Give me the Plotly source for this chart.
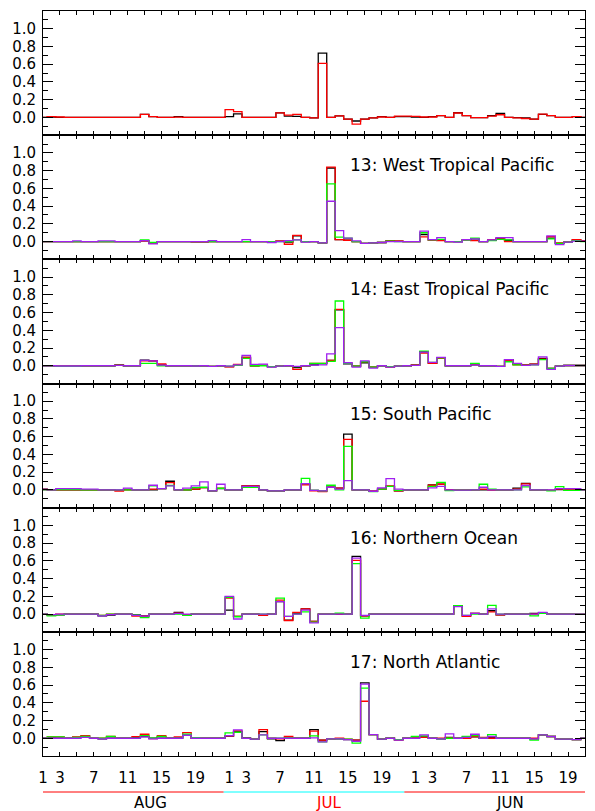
import plotly.graph_objects as go
from plotly.subplots import make_subplots

# ---------------- data ----------------
X = list(range(65))  # bin centres (psym=10 style steps)

P1_K = [0, 0.005, 0, 0, 0, 0, 0, 0, 0, 0, 0, 0, 0.035,
        0.008, 0, 0, 0.01, 0, 0, 0, 0, 0, 0.008, 0.04, 0, 0,
        0, 0, 0.052, 0.015, 0.012, 0, -0.005, 0.725, 0, 0.018, -0.02, -0.04, -0.02,
        -0.005, 0.01, 0, 0.01, 0.01, 0.005, 0, 0.008, 0.02, 0, 0.053, 0.02, -0.003,
        -0.003, 0.02, 0.045, 0, -0.003, -0.005, -0.02, 0.035, 0.02, 0, 0, 0.008, 0]
P1_R = [0, 0.01, 0.005, 0, 0, 0, 0, 0, 0, 0, 0, 0, 0.035,
        0.008, 0, 0, 0.003, 0, 0, 0, 0, 0, 0.088, 0.065, 0, 0,
        0, 0, 0.052, 0.025, 0.035, 0, -0.005, 0.61, 0, 0.018, -0.02, -0.075, -0.02,
        -0.005, 0.005, 0, 0.015, 0.015, 0.012, 0.005, 0.005, 0.02, 0, 0.05, 0.02, -0.003,
        -0.003, 0.015, 0.03, 0, -0.005, -0.012, -0.02, 0.038, 0.02, 0, 0, 0.01, 0]

P2_K = [0, 0, 0, 0, 0, 0, 0, 0, 0, 0, 0, 0, 0.008,
        -0.02, 0, 0, 0, 0, -0.004, -0.004, 0, 0, 0, 0, 0, 0,
        0, 0, 0.005, -0.005, 0.065, 0, 0, -0.015, 0.83, 0.023, 0.015, 0, -0.02,
        -0.015, -0.01, 0.008, 0.005, 0, 0, 0.08, 0.02, 0.015, 0, 0, 0.02, 0.03,
        0, 0.015, 0.035, 0.015, 0, 0, 0, 0, 0.04, -0.02, -0.005, 0.02, 0.008]
P2_R = [0, 0, 0, 0, 0, 0, 0, 0, 0, 0, 0, 0, 0.008,
        -0.02, 0, 0, 0, 0, -0.004, -0.004, 0, 0, 0, 0, 0, 0,
        0, 0, 0.005, -0.03, 0.07, 0, 0, -0.015, 0.84, 0.023, 0.015, 0, -0.02,
        -0.015, -0.01, 0.008, 0.005, 0, 0, 0.053, 0.015, 0.01, 0, 0, 0.023, 0.01,
        0, 0.02, 0.04, 0, 0, 0, 0, 0, 0.056, -0.015, -0.005, 0.023, 0.008]
P2_G = [0, 0, 0, 0, 0, 0, 0, 0, 0, 0, 0, 0, 0.02,
        -0.01, 0, 0, 0, 0, 0, 0, 0, 0, 0, 0, 0, 0,
        0, 0, 0, 0, 0.02, 0, 0, -0.015, 0.65, 0.05, 0.038, 0, -0.02,
        -0.015, -0.01, 0.005, 0, 0, 0, 0.1, 0.02, 0.026, 0, 0, 0.02, 0.038,
        0, 0.01, 0.026, 0.02, 0, 0, 0, 0, 0.03, -0.02, -0.005, 0.01, 0]
P2_P = [0, 0, 0, 0, 0.008, 0, 0, 0.008, 0.008, 0, 0, 0, 0.01,
        -0.025, 0, 0, 0, 0, 0, 0, 0.012, 0, 0, 0, 0.023, 0,
        0, -0.01, 0, 0.01, 0.02, -0.005, 0, -0.015, 0.455, 0.124, 0.04, 0.008, -0.02,
        -0.015, -0.01, 0, 0, 0, 0, 0.117, 0.023, 0.045, 0, -0.005, 0.023, 0.03,
        0, 0.02, 0.045, 0.045, 0, 0, 0, 0, 0.064, -0.034, -0.005, 0.005, 0.005]

P3_K = [0, 0, -0.005, -0.005, -0.005, 0, 0, 0, 0, 0.01, 0, 0, 0.064,
        0.056, 0.01, 0, 0, 0, -0.003, 0, -0.007, 0, -0.01, 0.01, 0.094, 0,
        0.005, -0.01, -0.005, 0, -0.022, -0.003, 0.01, 0.025, 0.06, 0.63, 0.022, -0.005, 0.034,
        -0.015, 0, -0.01, -0.005, 0, 0.01, 0.158, 0.026, 0.083, 0, 0, 0, 0.01,
        0, 0, -0.007, 0.07, 0.015, 0.01, 0.018, 0.083, -0.03, -0.005, 0.003, 0.003, 0.003]
P3_R = [0, 0, -0.005, -0.005, -0.005, 0, 0, 0, 0, 0.008, 0, 0, 0.056,
        0.056, 0.02, 0, 0, 0, -0.003, 0, -0.007, 0, -0.012, 0.015, 0.094, 0,
        0.005, -0.01, -0.005, 0, -0.04, -0.003, 0.026, 0.026, 0.06, 0.635, 0.026, -0.005, 0.045,
        -0.015, 0, -0.015, -0.005, 0, 0.01, 0.143, 0.026, 0.083, 0, 0, 0, 0.015,
        0, 0, -0.007, 0.06, 0.01, 0.01, 0.018, 0.075, -0.03, -0.005, 0.003, 0.003, 0.003]
P3_G = [0, 0, -0.007, -0.007, -0.007, 0, 0, 0, 0, 0.005, 0, 0, 0.026,
        0.026, 0, 0, 0, 0, -0.003, 0, -0.007, 0, -0.005, 0.005, 0.083, 0,
        0, -0.01, -0.005, 0, -0.01, 0, 0.026, 0.026, 0.05, 0.73, 0.026, -0.005, 0.045,
        -0.015, 0, -0.01, -0.005, 0, 0.005, 0.165, 0.038, 0.088, 0, 0, 0, 0.026,
        0, 0, -0.007, 0.045, 0.01, 0.005, 0.01, 0.07, -0.03, -0.005, 0.003, 0.003, 0.003]
P3_P = [0, 0, -0.003, -0.003, -0.003, 0, 0, 0, 0, 0.005, 0, 0, 0.06,
        0.056, 0.008, 0, 0, 0, -0.003, 0, -0.007, 0, -0.005, 0.01, 0.117, 0.015,
        0.018, -0.015, -0.005, 0, -0.008, 0, 0.008, 0.01, 0.135, 0.43, 0.034, -0.015, 0.056,
        -0.026, 0, -0.015, -0.005, 0, 0.005, 0.154, 0.038, 0.094, 0, 0, 0, 0.01,
        0, 0, -0.007, 0.07, 0.026, 0.005, 0.01, 0.1, -0.04, -0.005, 0.003, 0.003, 0.003]

P4_K = [0.01, 0, 0, 0, 0, 0, 0, 0, 0, -0.005, 0.005, 0, 0,
        0, 0.015, 0.098, 0, 0, 0.01, 0.026, -0.01, 0.015, 0, 0, 0.045, 0.045,
        0, -0.01, -0.01, 0, 0, 0.068, -0.005, -0.015, 0.03, 0.02, 0.63, 0, 0,
        -0.015, 0.01, 0.04, -0.01, 0, 0, 0, 0.056, 0.064, 0, -0.003, -0.003, 0,
        0, 0, 0, 0, 0.02, 0.075, 0, 0, -0.005, 0.005, 0, 0, 0]
P4_R = [0.005, 0, 0, 0, 0, 0, 0, 0, 0, -0.012, 0, 0, 0,
        0.01, 0.015, 0.083, 0, 0, 0.01, 0.026, -0.01, 0.019, 0, 0, 0.045, 0.045,
        0, -0.01, -0.01, 0, 0, 0.056, -0.01, -0.02, 0.03, 0.02, 0.57, 0, 0,
        -0.015, 0.01, 0.045, -0.01, 0, 0, 0, 0.053, 0.064, 0, -0.003, -0.003, 0,
        0.01, 0, 0, 0, 0.01, 0.068, 0, 0, -0.005, 0.01, 0.005, 0.005, 0]
P4_G = [0, 0, 0.005, 0.005, 0.005, 0, 0, 0, 0, 0, 0, 0, 0,
        0.045, 0.015, 0.05, 0, 0, 0.026, 0.03, -0.01, 0.019, 0, 0, 0.03, 0.03,
        0, -0.01, -0.01, 0, 0, 0.13, -0.005, -0.01, 0.053, 0, 0.49, 0, 0,
        -0.02, 0.008, 0.04, -0.005, 0, 0, 0, 0.04, 0.086, -0.008, -0.003, -0.003, 0,
        0.064, 0.008, 0, 0, 0, 0.035, 0, 0, -0.01, 0.038, -0.005, -0.005, 0]
P4_P = [0.005, 0, 0.015, 0.015, 0.015, 0.01, 0.01, 0, 0, 0, 0.02, 0, 0,
        0.053, 0.015, 0.045, 0, 0.02, 0.045, 0.09, -0.01, 0.064, 0, 0, 0.04, 0.04,
        0, -0.01, -0.01, 0, 0, 0.07, -0.005, -0.01, 0.03, 0.01, 0.105, 0, 0,
        -0.015, 0.023, 0.128, 0.008, 0, 0, 0, 0.023, 0.04, 0, -0.003, -0.003, 0,
        0.03, 0, 0, 0, 0, 0.05, 0, 0, 0, 0.015, 0.015, 0.015, 0]

P5_K = [0, -0.01, -0.008, 0, 0, 0, 0, -0.02, -0.01, 0, 0, -0.01, -0.02,
        0, 0, 0, 0.02, -0.008, 0, 0, 0, 0, 0.045, -0.026, 0, 0,
        -0.015, 0, 0.14, -0.068, 0.008, 0.06, -0.083, 0, 0, 0, 0, 0.65, -0.02,
        0, 0, 0, 0, 0, 0, 0, 0, 0, 0, 0.094, -0.02, 0.008,
        0, 0.038, -0.008, 0, 0, 0, 0.008, 0.01, 0, 0, 0, 0, 0]
P5_R = [0, -0.01, 0, 0, 0, 0, 0, -0.015, 0, 0, 0, -0.022, -0.022,
        0, 0, 0, 0.012, -0.005, 0, 0, 0, 0, 0.18, -0.026, 0, 0,
        -0.015, 0, 0.158, -0.072, 0.02, 0.06, -0.083, 0, 0, 0, 0, 0.605, -0.02,
        0, 0, 0, 0, 0, 0, 0, 0, 0, 0, 0.094, -0.026, 0.008,
        0, 0.026, -0.008, 0, 0, 0, 0, 0.01, 0, 0, 0, 0, 0]
P5_G = [0, -0.02, -0.008, 0, 0, 0, 0, -0.015, 0, 0, 0, -0.012, -0.04,
        0, 0, 0, 0, -0.015, 0, 0, 0, 0, 0.19, -0.03, 0, 0,
        0, 0, 0.18, -0.026, 0, 0.026, -0.09, 0, 0, 0.01, 0, 0.57, -0.045,
        0, 0, 0, 0, 0, 0, 0, 0, 0, 0, 0.094, -0.015, 0,
        0, 0.098, 0, 0, 0, 0, -0.02, 0.008, 0, 0, 0, 0, 0]
P5_P = [0, -0.005, 0, 0, 0, 0, 0, -0.02, -0.005, 0, 0, -0.015, -0.022,
        0, 0, 0, 0.008, 0, 0, 0, 0, 0, 0.2, -0.055, 0, 0,
        0, 0, 0.14, -0.026, 0, 0.045, -0.1, 0, 0, 0, 0, 0.63, -0.015,
        0, 0, 0, 0, 0, 0, 0, 0, 0, 0, 0.085, -0.015, 0.008,
        0, 0.06, 0, 0, 0, 0, 0, 0.02, 0, 0, 0, 0, 0]

P6_K = [0, 0.008, 0.005, 0, 0.01, 0.026, 0, -0.008, 0.015, 0, 0, 0.008, 0.02,
        0, 0.015, 0, 0.005, 0.038, 0, 0, 0, 0, 0.023, 0.075, 0.008, -0.01,
        0.075, -0.008, -0.026, 0, 0, 0, 0.098, -0.02, -0.008, -0.008, -0.015, -0.022, 0.625,
        0.04, -0.01, 0, -0.015, 0, 0.01, 0.015, 0, -0.008, 0.01, 0, 0.01, 0.015,
        0, 0.01, 0, 0, 0, 0, -0.008, 0.038, 0.02, -0.01, -0.01, -0.015, 0]
P6_R = [0, 0.015, 0.015, 0, 0.015, 0.03, 0, 0, 0.02, 0, 0, 0.019, 0.045,
        -0.005, 0.03, 0, 0.015, 0.064, 0, 0, 0, 0, 0.026, 0.083, 0, -0.01,
        0.098, 0, -0.008, 0.02, 0, 0, 0.08, -0.02, -0.008, 0, -0.01, -0.022, 0.417,
        0.04, -0.01, 0, -0.022, 0, 0.01, 0.01, 0, 0, 0.004, 0, 0, 0.02,
        0.01, 0, 0, 0, 0, 0, 0, 0.038, 0.02, -0.01, -0.01, -0.015, 0]
P6_G = [0, 0.015, 0.015, 0, 0.01, 0.02, 0, 0, 0.02, 0, 0, 0, 0.03,
        0, 0.02, 0, 0, 0.045, 0.008, 0, 0, 0, 0.06, 0.068, 0, -0.01,
        0.038, 0, 0, 0.005, 0, 0, 0.026, -0.04, -0.008, -0.008, -0.01, -0.055, 0.565,
        0.04, -0.01, 0, -0.015, 0, 0.02, 0.026, 0, -0.008, 0, 0, 0.02, 0.03,
        0, 0.04, 0, 0, 0, 0, -0.022, 0.038, 0.02, -0.01, -0.01, -0.015, 0]
P6_P = [0, 0, 0, 0, 0, 0.01, 0, -0.008, 0, 0, 0, 0, 0.015,
        -0.008, 0, 0, 0, 0.034, 0, 0, 0, 0, 0.03, 0.094, 0, -0.01,
        0.038, 0, 0, 0, 0, 0, 0.004, -0.04, -0.008, -0.008, -0.015, -0.034, 0.61,
        0.04, -0.01, 0, -0.022, 0, 0, 0.038, 0, -0.008, 0.05, 0, 0.01, 0.045,
        0, 0.02, 0, 0, 0, 0, -0.008, 0.038, 0.02, -0.01, -0.01, -0.015, 0]

PANELS = [
    ("", [P1_K, P1_R]),
    ("13: West Tropical Pacific", [P2_K, P2_R, P2_G, P2_P]),
    ("14: East Tropical Pacific", [P3_K, P3_R, P3_G, P3_P]),
    ("15: South Pacific", [P4_K, P4_R, P4_G, P4_P]),
    ("16: Northern Ocean", [P5_K, P5_R, P5_G, P5_P]),
    ("17: North Atlantic", [P6_K, P6_R, P6_G, P6_P]),
]
SERIES_COLORS = ["#000000", "#ff0000", "#00ff00", "#a020f0"]

MONTHS = ["AUG", "JUL", "JUN"]
MONTH_DAYS = [1, 3, 7, 11, 15, 19]
DAYS_PER_MONTH_SLOT = 22
Y_TICKS = [0.0, 0.2, 0.4, 0.6, 0.8, 1.0]

# ---------------- figure ----------------
FONT = "DejaVu Sans"
fig = make_subplots(rows=6, cols=1, vertical_spacing=0)

for i, (title, series) in enumerate(PANELS):
    row = i + 1
    for ys, col in zip(series, SERIES_COLORS):
        fig.add_trace(go.Scatter(x=X, y=ys, mode="lines",
                                 line=dict(color=col, width=1.3, shape="hvh"),
                                 showlegend=False, hoverinfo="skip"),
                      row=row, col=1)
    if title:
        fig.add_annotation(text=title, x=36.0, y=0.86, xref=f"x{row}", yref=f"y{row}",
                           xanchor="left", yanchor="middle", showarrow=False,
                           font=dict(family=FONT, size=17, color="black"))

# x tick positions/labels
tickvals = list(range(0, 65, 2))
labmap = {}
for m in range(3):
    for d in MONTH_DAYS:
        labmap[m * DAYS_PER_MONTH_SLOT + d - 1] = str(d)
ticktext = [labmap.get(v, "") for v in tickvals]

for row in range(1, 7):
    fig.update_xaxes(row=row, col=1, range=[0, 64], showgrid=False, zeroline=False,
                     showline=True, linecolor="black", linewidth=1, mirror="ticks",
                     ticks="inside", ticklen=4, tickcolor="black", tickwidth=1,
                     tickvals=tickvals, ticktext=ticktext,
                     showticklabels=(row == 6), ticklabelstandoff=8,
                     tickfont=dict(family=FONT, size=15, color="black"))
    fig.update_yaxes(row=row, col=1, range=[-0.2, 1.2], showgrid=False, zeroline=False,
                     showline=True, linecolor="black", linewidth=1, mirror="ticks",
                     ticks="inside", ticklen=10, tickcolor="black", tickwidth=1,
                     tickvals=Y_TICKS, ticktext=[f"{v:.1f}" for v in Y_TICKS],
                     minor=dict(ticks="inside", ticklen=5, dtick=0.1, tick0=0,
                                tickcolor="black", showgrid=False),
                     ticklabelstandoff=3,
                     tickfont=dict(family=FONT, size=15, color="black"))

# month bars and labels below the axis
L, R, T, B = 43, 10, 11, 55
W, H = 595, 811
plot_h = H - T - B
def py(px_y):
    return (H - B - px_y) / plot_h

month_colors = ["#ff0000", "#00ffff", "#ff0000"]
for m in range(3):
    fig.add_shape(type="line", xref="paper", yref="paper",
                  x0=m / 3, x1=(m + 1) / 3, y0=py(792), y1=py(792),
                  line=dict(color=month_colors[m], width=1))
label_x = [150, 328, 510]
label_col = ["black", "#ff0000", "black"]
for m, name in enumerate(MONTHS):
    fig.add_annotation(text=name, xref="paper", yref="paper",
                       x=(label_x[m] - L) / (W - L - R), y=py(802.5),
                       xanchor="center", yanchor="middle", showarrow=False,
                       font=dict(family=FONT, size=15, color=label_col[m]))

fig.update_layout(width=W, height=H, autosize=False,
                  margin=dict(l=L, r=R, t=T, b=B, pad=0),
                  plot_bgcolor="white", paper_bgcolor="white",
                  showlegend=False)

fig.write_html("out.html")
